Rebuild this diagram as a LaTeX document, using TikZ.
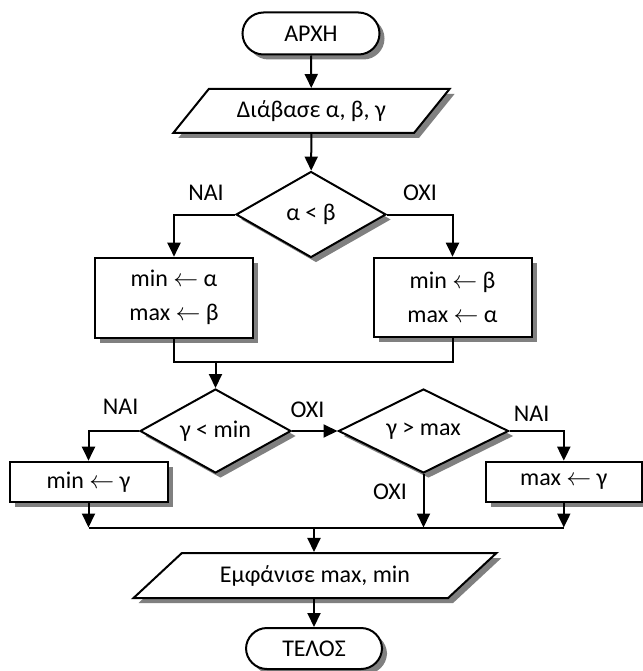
\documentclass[tikz,border=0pt]{standalone}
\usepackage{fontspec}
\setmainfont{Carlito}
\usetikzlibrary{arrows.meta,shapes.geometric,shadows}

\tikzset{
  base/.style={draw=black, line width=2pt, fill=white, inner sep=0pt,
    font=\fontsize{24}{34}\selectfont, align=center,
    drop shadow={shadow xshift=5pt, shadow yshift=-5pt, fill=black!50, opacity=1}},
  terminal/.style={base, rectangle, rounded corners=21pt, minimum width=137pt, minimum height=42pt},
  process/.style={base, rectangle, minimum height=40pt},
  decision/.style={base, diamond, aspect=1.8},
  io/.style={base, trapezium, trapezium stretches=true},
  lbl/.style={font=\fontsize{24}{28}\selectfont, inner sep=0pt},
  arr/.style={line width=2pt, -{Triangle[width=13pt,length=14pt]}},
  ln/.style={line width=2pt},
}
\newcommand{\la}{\ensuremath{\leftarrow}}

\begin{document}
\begin{tikzpicture}[x=1pt, y=-1pt]
  \useasboundingbox (0,0) rectangle (642,671);

  % nodes
  \node[terminal] (start) at (311,33.5) {ΑΡΧΗ};
  \node[io, minimum width=277pt, minimum height=44pt,
        trapezium left angle=39.2, trapezium right angle=140.8] (read) at (311.4,111) {Διάβασε α, β, γ};
  \node[decision, minimum width=150pt, minimum height=86pt] (d1) at (311,214.5) {α < β};
  \node[process, minimum width=158pt, minimum height=80pt] (b1) at (174,297.7) {min \la{} α\\max \la{} β};
  \node[process, minimum width=158pt, minimum height=79pt] (b2) at (452.5,297.2) {min \la{} β\\max \la{} α};
  \node[decision, minimum width=151pt, minimum height=84pt] (d2) at (215.5,431) {γ < min};
  \node[decision, minimum width=170pt, minimum height=84pt] (d3) at (423.5,431) {γ > max};
  \node[process, minimum width=158pt] (b3) at (88.5,481.7) {min \la{} γ};
  \node[process, minimum width=155.5pt] (b4) at (563.8,481.7) {max \la{} γ};
  \node[io, minimum width=364pt, minimum height=45pt,
        trapezium left angle=31, trapezium right angle=149] (out) at (315,575.5) {Εμφάνισε max, min};
  \node[terminal, minimum width=136pt, minimum height=41pt] (stop) at (314,648.5) {ΤΕΛΟΣ};

  % junction points
  \coordinate (j1) at (215.5,362);
  \coordinate (j2) at (314,527.5);

  % connectors
  \draw[arr] (start) -- (read);
  \draw[arr] (read) -- (d1);
  \draw[arr] (d1.west) -| (b1.north);
  \draw[arr] (d1.east) -| (b2.north);
  \draw[ln] (b1.south) -- (b1.south |- j1) -- (b2.south |- j1) -- (b2.south);
  \draw[arr] (j1) -- (d2.north);
  \draw[arr] (d2.west) -| (b3.north);
  \draw[arr] (d2.east) -- (d3.west);
  \draw[arr] (d3.east) -| (b4.north);
  \draw[arr] (b3.south) -- (b3.south |- j2);
  \draw[arr] (d3.south) -- (d3.south |- j2);
  \draw[arr] (b4.south) -- (b4.south |- j2);
  \draw[ln] (b3.south |- j2) -- (b4.south |- j2);
  \draw[arr] (j2) -- (out.north -| j2);
  \draw[arr] (out.south -| j2) -- (stop.north);

  % branch labels
  \node[lbl] (l1) at (206,193) {ΝΑΙ};
  \node[lbl] (l2) at (420,193) {ΟΧΙ};
  \node[lbl] (l3) at (120.7,406.7) {ΝΑΙ};
  \node[lbl] (l4) at (307.5,410) {ΟΧΙ};
  \node[lbl] (l5) at (531.7,413.3) {ΝΑΙ};
  \node[lbl] (l6) at (390,491.7) {ΟΧΙ};
\end{tikzpicture}
\end{document}
